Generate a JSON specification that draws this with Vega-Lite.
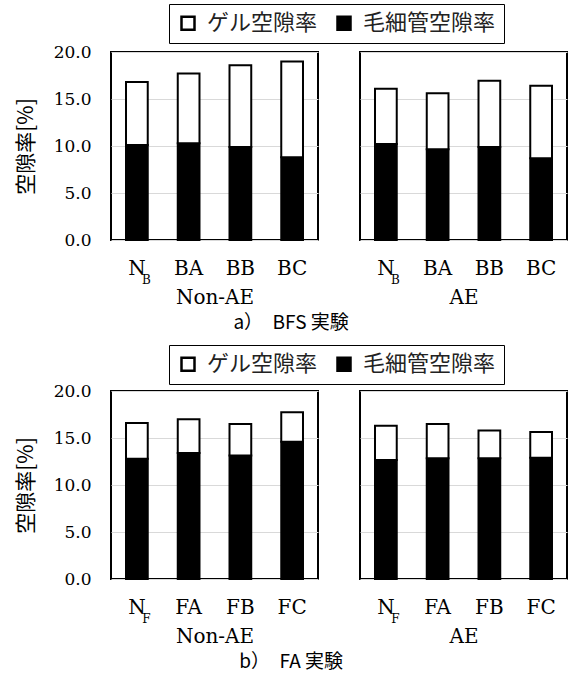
{
  "$schema": "https://vega.github.io/schema/vega-lite/v6.json",
  "background": "white",
  "padding": {"left": 14, "top": 3, "right": 0, "bottom": 0},
  "data": {"values": [
    {"exp": "BFS", "cond": "Non-AE", "sample": "N_B", "type": "毛細管空隙率", "value": 10.1},
    {"exp": "BFS", "cond": "Non-AE", "sample": "N_B", "type": "ゲル空隙率", "value": 6.7},
    {"exp": "BFS", "cond": "Non-AE", "sample": "BA", "type": "毛細管空隙率", "value": 10.3},
    {"exp": "BFS", "cond": "Non-AE", "sample": "BA", "type": "ゲル空隙率", "value": 7.4},
    {"exp": "BFS", "cond": "Non-AE", "sample": "BB", "type": "毛細管空隙率", "value": 9.9},
    {"exp": "BFS", "cond": "Non-AE", "sample": "BB", "type": "ゲル空隙率", "value": 8.7},
    {"exp": "BFS", "cond": "Non-AE", "sample": "BC", "type": "毛細管空隙率", "value": 8.8},
    {"exp": "BFS", "cond": "Non-AE", "sample": "BC", "type": "ゲル空隙率", "value": 10.2},
    {"exp": "BFS", "cond": "AE", "sample": "N_B", "type": "毛細管空隙率", "value": 10.2},
    {"exp": "BFS", "cond": "AE", "sample": "N_B", "type": "ゲル空隙率", "value": 5.9},
    {"exp": "BFS", "cond": "AE", "sample": "BA", "type": "毛細管空隙率", "value": 9.65},
    {"exp": "BFS", "cond": "AE", "sample": "BA", "type": "ゲル空隙率", "value": 5.95},
    {"exp": "BFS", "cond": "AE", "sample": "BB", "type": "毛細管空隙率", "value": 9.9},
    {"exp": "BFS", "cond": "AE", "sample": "BB", "type": "ゲル空隙率", "value": 7.05},
    {"exp": "BFS", "cond": "AE", "sample": "BC", "type": "毛細管空隙率", "value": 8.7},
    {"exp": "BFS", "cond": "AE", "sample": "BC", "type": "ゲル空隙率", "value": 7.7},
    {"exp": "FA", "cond": "Non-AE", "sample": "N_F", "type": "毛細管空隙率", "value": 12.8},
    {"exp": "FA", "cond": "Non-AE", "sample": "N_F", "type": "ゲル空隙率", "value": 3.8},
    {"exp": "FA", "cond": "Non-AE", "sample": "FA", "type": "毛細管空隙率", "value": 13.4},
    {"exp": "FA", "cond": "Non-AE", "sample": "FA", "type": "ゲル空隙率", "value": 3.6},
    {"exp": "FA", "cond": "Non-AE", "sample": "FB", "type": "毛細管空隙率", "value": 13.15},
    {"exp": "FA", "cond": "Non-AE", "sample": "FB", "type": "ゲル空隙率", "value": 3.35},
    {"exp": "FA", "cond": "Non-AE", "sample": "FC", "type": "毛細管空隙率", "value": 14.6},
    {"exp": "FA", "cond": "Non-AE", "sample": "FC", "type": "ゲル空隙率", "value": 3.15},
    {"exp": "FA", "cond": "AE", "sample": "N_F", "type": "毛細管空隙率", "value": 12.65},
    {"exp": "FA", "cond": "AE", "sample": "N_F", "type": "ゲル空隙率", "value": 3.65},
    {"exp": "FA", "cond": "AE", "sample": "FA", "type": "毛細管空隙率", "value": 12.85},
    {"exp": "FA", "cond": "AE", "sample": "FA", "type": "ゲル空隙率", "value": 3.65},
    {"exp": "FA", "cond": "AE", "sample": "FB", "type": "毛細管空隙率", "value": 12.85},
    {"exp": "FA", "cond": "AE", "sample": "FB", "type": "ゲル空隙率", "value": 2.95},
    {"exp": "FA", "cond": "AE", "sample": "FC", "type": "毛細管空隙率", "value": 12.9},
    {"exp": "FA", "cond": "AE", "sample": "FC", "type": "ゲル空隙率", "value": 2.75}
  ]},
  "vconcat": [
    {
      "title": {"text": "a）　BFS 実験", "orient": "bottom", "anchor": "middle", "frame": "bounds", "font": "Noto Sans CJK JP", "fontSize": 19, "fontWeight": "normal", "color": "black", "offset": 6},
      "hconcat": [
        {
          "width": 207, "height": 188,
          "transform": [{"filter": "datum.exp == 'BFS' && datum.cond == 'Non-AE'"}],
          "layer": [
            {
              "mark": {"type": "bar", "stroke": "black", "strokeWidth": 2},
              "encoding": {
                "x": {"field": "sample", "type": "nominal", "sort": ["N_B", "BA", "BB", "BC"], "scale": {"paddingInner": 0.58, "paddingOuter": 0.29}, "axis": {"title": "Non-AE", "labelExpr": "datum.label == 'N_B' ? 'N\u00a0\u00a0' : datum.label"}},
                "y": {"field": "value", "type": "quantitative", "stack": "zero", "scale": {"domain": [0, 20], "nice": false}, "axis": {"values": [0, 5, 10, 15, 20], "format": ".1f", "title": "空隙率[%]", "grid": true}},
                "color": {"field": "type", "type": "nominal", "scale": {"domain": ["ゲル空隙率", "毛細管空隙率"], "range": ["white", "black"]}, "legend": {"orient": "none", "legendX": 58, "legendY": -48, "direction": "horizontal", "title": null}},
                "order": {"field": "type", "sort": "descending"}
              }
            },
            {
              "transform": [{"filter": "datum.sample == 'N_B' && datum.type == '毛細管空隙率'"}],
              "mark": {"type": "text", "text": "B", "font": "DejaVu Serif", "fontSize": 12, "baseline": "top", "align": "center", "dx": 9.5, "dy": 35, "color": "black"},
              "encoding": {"x": {"field": "sample", "type": "nominal", "sort": ["N_B", "BA", "BB", "BC"]}, "y": {"datum": 0}}
            }
          ]
        },
        {
          "width": 207, "height": 188,
          "transform": [{"filter": "datum.exp == 'BFS' && datum.cond == 'AE'"}],
          "layer": [
            {
              "mark": {"type": "bar", "stroke": "black", "strokeWidth": 2},
              "encoding": {
                "x": {"field": "sample", "type": "nominal", "sort": ["N_B", "BA", "BB", "BC"], "scale": {"paddingInner": 0.58, "paddingOuter": 0.29}, "axis": {"title": "AE", "labelExpr": "datum.label == 'N_B' ? 'N\u00a0\u00a0' : datum.label"}},
                "y": {"field": "value", "type": "quantitative", "stack": "zero", "scale": {"domain": [0, 20], "nice": false}, "axis": {"values": [0, 5, 10, 15, 20], "labels": false, "title": null, "grid": true}},
                "color": {"field": "type", "type": "nominal", "scale": {"domain": ["ゲル空隙率", "毛細管空隙率"], "range": ["white", "black"]}, "legend": {"orient": "none", "legendX": 58, "legendY": -48, "direction": "horizontal", "title": null}},
                "order": {"field": "type", "sort": "descending"}
              }
            },
            {
              "transform": [{"filter": "datum.sample == 'N_B' && datum.type == '毛細管空隙率'"}],
              "mark": {"type": "text", "text": "B", "font": "DejaVu Serif", "fontSize": 12, "baseline": "top", "align": "center", "dx": 9.5, "dy": 35, "color": "black"},
              "encoding": {"x": {"field": "sample", "type": "nominal", "sort": ["N_B", "BA", "BB", "BC"]}, "y": {"datum": 0}}
            }
          ]
        }
      ],
      "spacing": 40,
      "resolve": {"scale": {"color": "shared", "x": "independent", "y": "independent"}, "legend": {"color": "shared"}}
    },
    {
      "title": {"text": "b）　FA 実験", "orient": "bottom", "anchor": "middle", "frame": "bounds", "font": "Noto Sans CJK JP", "fontSize": 19, "fontWeight": "normal", "color": "black", "offset": 6},
      "hconcat": [
        {
          "width": 207, "height": 188,
          "transform": [{"filter": "datum.exp == 'FA' && datum.cond == 'Non-AE'"}],
          "layer": [
            {
              "mark": {"type": "bar", "stroke": "black", "strokeWidth": 2},
              "encoding": {
                "x": {"field": "sample", "type": "nominal", "sort": ["N_F", "FA", "FB", "FC"], "scale": {"paddingInner": 0.58, "paddingOuter": 0.29}, "axis": {"title": "Non-AE", "labelExpr": "datum.label == 'N_F' ? 'N\u00a0\u00a0' : datum.label"}},
                "y": {"field": "value", "type": "quantitative", "stack": "zero", "scale": {"domain": [0, 20], "nice": false}, "axis": {"values": [0, 5, 10, 15, 20], "format": ".1f", "title": "空隙率[%]", "grid": true}},
                "color": {"field": "type", "type": "nominal", "scale": {"domain": ["ゲル空隙率", "毛細管空隙率"], "range": ["white", "black"]}, "legend": {"orient": "none", "legendX": 58, "legendY": -46, "direction": "horizontal", "title": null}},
                "order": {"field": "type", "sort": "descending"}
              }
            },
            {
              "transform": [{"filter": "datum.sample == 'N_F' && datum.type == '毛細管空隙率'"}],
              "mark": {"type": "text", "text": "F", "font": "DejaVu Serif", "fontSize": 12, "baseline": "top", "align": "center", "dx": 9.5, "dy": 35, "color": "black"},
              "encoding": {"x": {"field": "sample", "type": "nominal", "sort": ["N_F", "FA", "FB", "FC"]}, "y": {"datum": 0}}
            }
          ]
        },
        {
          "width": 207, "height": 188,
          "transform": [{"filter": "datum.exp == 'FA' && datum.cond == 'AE'"}],
          "layer": [
            {
              "mark": {"type": "bar", "stroke": "black", "strokeWidth": 2},
              "encoding": {
                "x": {"field": "sample", "type": "nominal", "sort": ["N_F", "FA", "FB", "FC"], "scale": {"paddingInner": 0.58, "paddingOuter": 0.29}, "axis": {"title": "AE", "labelExpr": "datum.label == 'N_F' ? 'N\u00a0\u00a0' : datum.label"}},
                "y": {"field": "value", "type": "quantitative", "stack": "zero", "scale": {"domain": [0, 20], "nice": false}, "axis": {"values": [0, 5, 10, 15, 20], "labels": false, "title": null, "grid": true}},
                "color": {"field": "type", "type": "nominal", "scale": {"domain": ["ゲル空隙率", "毛細管空隙率"], "range": ["white", "black"]}, "legend": {"orient": "none", "legendX": 58, "legendY": -46, "direction": "horizontal", "title": null}},
                "order": {"field": "type", "sort": "descending"}
              }
            },
            {
              "transform": [{"filter": "datum.sample == 'N_F' && datum.type == '毛細管空隙率'"}],
              "mark": {"type": "text", "text": "F", "font": "DejaVu Serif", "fontSize": 12, "baseline": "top", "align": "center", "dx": 9.5, "dy": 35, "color": "black"},
              "encoding": {"x": {"field": "sample", "type": "nominal", "sort": ["N_F", "FA", "FB", "FC"]}, "y": {"datum": 0}}
            }
          ]
        }
      ],
      "spacing": 40,
      "resolve": {"scale": {"color": "shared", "x": "independent", "y": "independent"}, "legend": {"color": "shared"}}
    }
  ],
  "spacing": 11,
  "resolve": {"scale": {"color": "independent"}, "legend": {"color": "independent"}},
  "config": {
    "view": {"stroke": "black", "strokeWidth": 2},
    "axis": {"labelFont": "DejaVu Serif", "titleFont": "DejaVu Serif", "labelColor": "black", "titleColor": "black", "titleFontWeight": "normal", "ticks": false, "tickSize": 0, "domain": false, "gridColor": "#d9d9d9", "gridWidth": 1},
    "axisX": {"grid": false, "labelAngle": 0, "labelFontSize": 20, "labelPadding": 18, "titleFontSize": 20, "titlePadding": 9},
    "axisY": {"labelFontSize": 17, "labelPadding": 20, "titleFont": "Noto Sans CJK JP", "titleFontSize": 21, "titlePadding": 17},
    "legend": {"symbolType": "square", "symbolSize": 169, "symbolStrokeColor": "black", "symbolStrokeWidth": 2.5, "labelFont": "Noto Sans CJK JP", "labelFontSize": 22, "labelColor": "#222", "labelOffset": 8, "columnPadding": 14, "padding": 8, "strokeColor": "black", "strokeWidth": 1, "labelLimit": 300}
  }
}
